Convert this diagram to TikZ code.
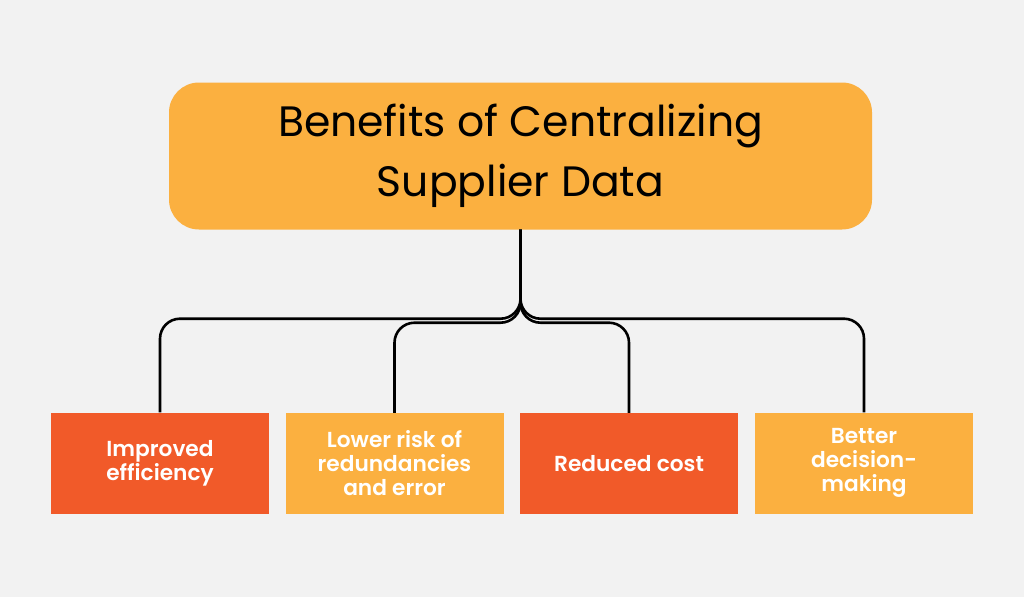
\documentclass[tikz,border=0pt]{standalone}
\usepackage{fontspec}
\setmainfont{Poppins}
\newfontfamily\boxfont{Poppins}[UprightFont=* SemiBold]
\definecolor{bg}{HTML}{F2F2F2}
\definecolor{lightor}{HTML}{FBB040}
\definecolor{darkor}{HTML}{F15A29}
\tikzset{
  leaf/.style={minimum width=218pt, minimum height=101pt, inner sep=0pt, align=center,
    text=white, font=\boxfont\fontsize{21.7}{24}\selectfont},
  conn/.style={line width=2.6pt, black, rounded corners=20pt}
}
\begin{document}
\begin{tikzpicture}[x=1pt,y=-1pt]
\fill[bg] (0,0) rectangle (1024,597);
\useasboundingbox (0,0) rectangle (1024,597);
\node[fill=lightor, rounded corners=30pt, minimum width=703pt, minimum height=147pt, inner sep=0pt,
  align=center, font=\fontsize{42.5}{60}\selectfont] (title) at (520.5,156) {Benefits of Centralizing\\Supplier Data};
\node[leaf, fill=darkor] (b1) at (160,463) {Improved\\efficiency};
\node[leaf, fill=lightor] (b2) at (394.5,463.5) {Lower risk of\\redundancies\\and error};
\node[leaf, fill=darkor] (b3) at (629,463.5) {Reduced cost};
\node[leaf, fill=lightor] (b4) at (864,463) {Better\\decision-\\making};
\coordinate (s) at (title.south);
\draw[conn] (s) -- ++(0,89) -| (b1.north);
\draw[conn] (s) -- ++(0,93) -| (b2.north);
\draw[conn] (s) -- ++(0,93) -| (b3.north);
\draw[conn] (s) -- ++(0,89) -| (b4.north);
\end{tikzpicture}
\end{document}
